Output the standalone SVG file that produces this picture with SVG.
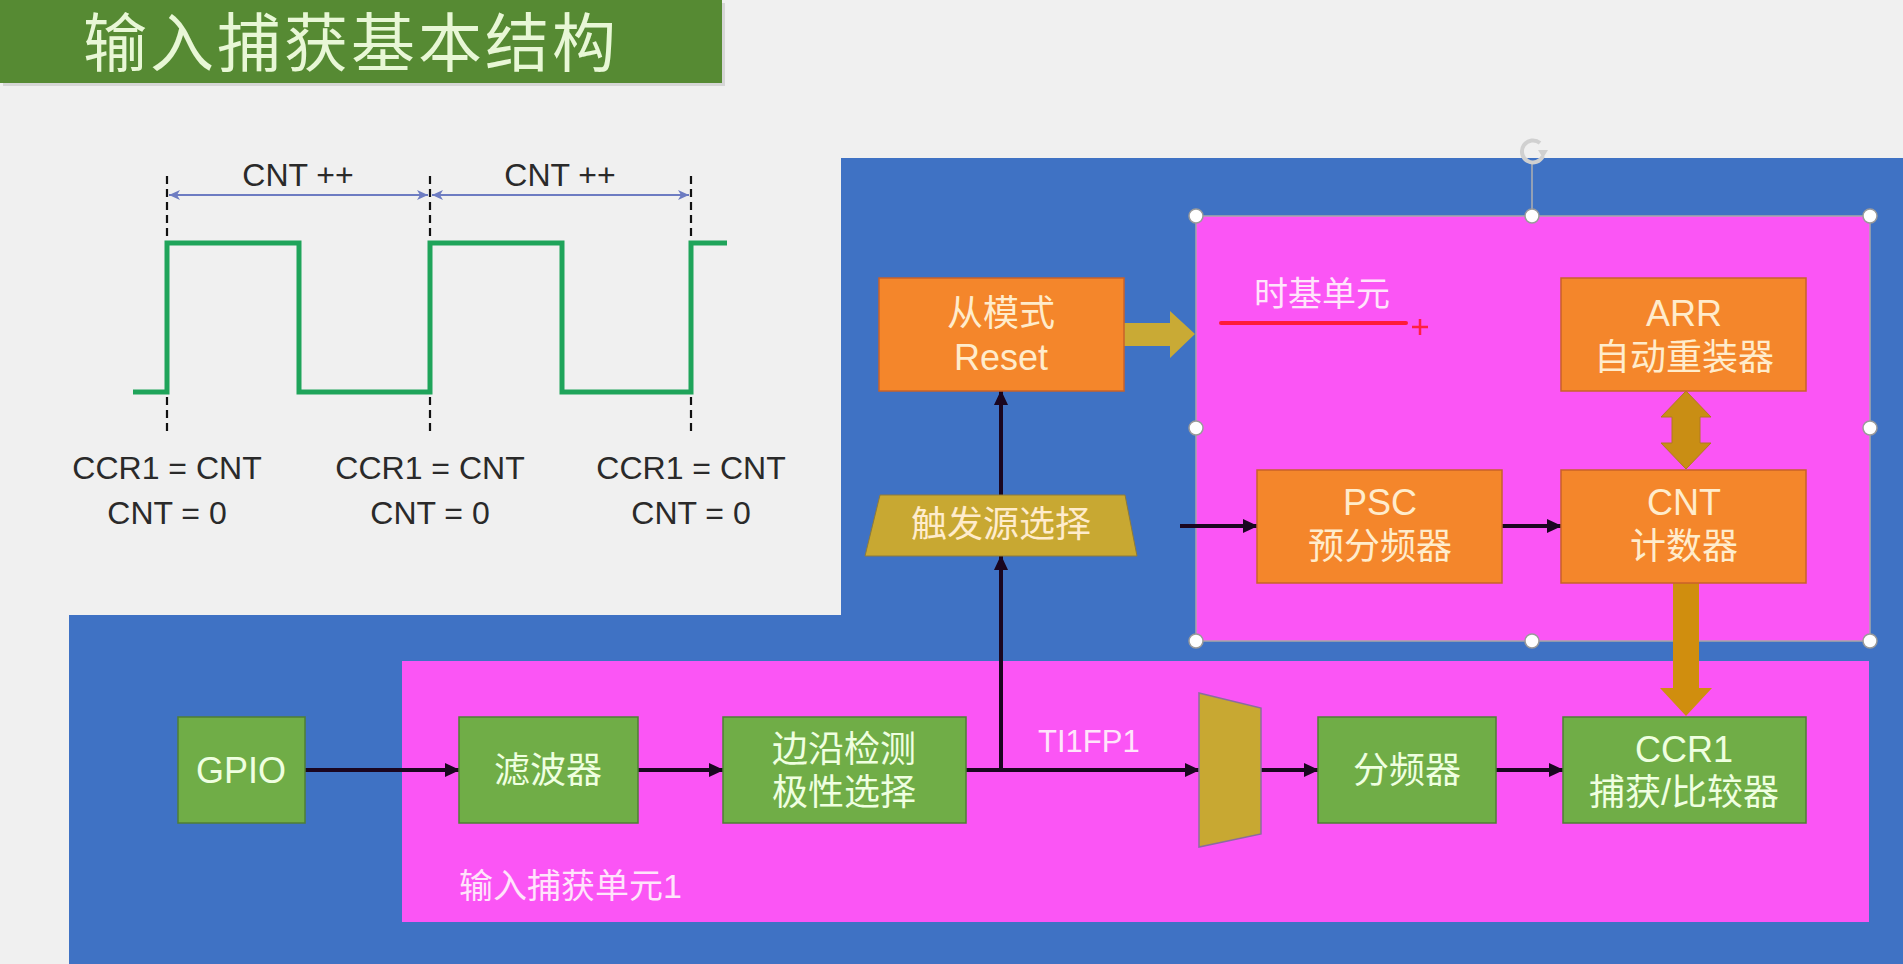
<svg xmlns="http://www.w3.org/2000/svg" width="1903" height="964" viewBox="0 0 1903 964">
<defs>
<style>
.cjk{font-family:"Liberation Sans","Noto Sans CJK SC",sans-serif;}
.lat{font-family:"Liberation Sans","Noto Sans CJK SC",sans-serif;}
.obox{fill:#f4862b;stroke:#c9622a;stroke-width:1.5;}
.gbox{fill:#70ad47;stroke:#4f7f34;stroke-width:1.5;}
.otxt{fill:#ffeccc;font-size:36px;text-anchor:middle;}
.gtxt{fill:#efffe0;font-size:36px;text-anchor:middle;}
.ptxt{fill:#ffe4fb;}
.wtxt{fill:#2a2a2a;font-size:32px;text-anchor:middle;}
.conn{stroke:#1a0620;stroke-width:4;fill:none;marker-end:url(#ah);}
.dash{stroke:#111;stroke-width:2.2;stroke-dasharray:8,5;fill:none;}
.dim{stroke:#6d7cc2;stroke-width:2;fill:none;marker-start:url(#sh);marker-end:url(#sh);}
.handle{fill:#fff;stroke:#9a9a9a;stroke-width:1.5;}
</style>
<marker id="ah" markerUnits="userSpaceOnUse" markerWidth="16" markerHeight="16" refX="14" refY="8" orient="auto"><path d="M0,1 L15,8 L0,15 z" fill="#1a0620"/></marker>
<marker id="sh" markerUnits="userSpaceOnUse" markerWidth="12" markerHeight="12" refX="11" refY="6" orient="auto-start-reverse"><path d="M0,1 L11,6 L0,11 L3,6 z" fill="#6d7cc2"/></marker>
</defs>
<rect x="0" y="0" width="1903" height="964" fill="#f0f0f0"/>
<!-- title -->
<g id="title">
<rect x="3" y="3" width="722" height="83" fill="#c4c4c4" opacity="0.6"/>
<rect x="0" y="0" width="722" height="83" fill="#568a33"/>
<text x="83" y="66" class="cjk" font-size="64" fill="#e8f7d6" letter-spacing="3">输入捕获基本结构</text>
</g>
<!-- blue background region -->
<path d="M841,158 L1903,158 L1903,964 L69,964 L69,615 L841,615 Z" fill="#3f72c4"/>
<!-- waveform -->
<g id="waveform">
<line class="dash" x1="167" y1="176" x2="167" y2="434"/>
<line class="dash" x1="430" y1="176" x2="430" y2="434"/>
<line class="dash" x1="691" y1="176" x2="691" y2="434"/>
<line class="dim" x1="169" y1="195" x2="428" y2="195"/>
<line class="dim" x1="432" y1="195" x2="689" y2="195"/>
<text class="lat wtxt" x="298" y="186">CNT ++</text>
<text class="lat wtxt" x="560" y="186">CNT ++</text>
<path d="M133,392 L167,392 L167,243 L299,243 L299,392 L430,392 L430,243 L562,243 L562,392 L691,392 L691,243 L727,243" fill="none" stroke="#1fa45a" stroke-width="5"/>
<text class="lat wtxt" x="167" y="479">CCR1 = CNT<tspan x="167" dy="45">CNT = 0</tspan></text>
<text class="lat wtxt" x="430" y="479">CCR1 = CNT<tspan x="430" dy="45">CNT = 0</tspan></text>
<text class="lat wtxt" x="691" y="479">CCR1 = CNT<tspan x="691" dy="45">CNT = 0</tspan></text>
</g>
<!-- time base unit -->
<g id="timebase">
<rect x="1196" y="216" width="674" height="425" fill="#fb55f5" stroke="#a8a8a8" stroke-width="1.5"/>
<text class="cjk ptxt" x="1254" y="306" font-size="34">时基单元</text>
<line x1="1221" y1="323" x2="1406" y2="323" stroke="#ff1a3a" stroke-width="4" stroke-linecap="round"/>
<path d="M1412,327 L1428,327 M1420,319 L1420,335" stroke="#ff2040" stroke-width="2.5"/>
</g>
<!-- input capture unit -->
<g id="capture-unit">
<rect x="402" y="661" width="1467" height="261" fill="#fb55f5"/>
<text class="cjk ptxt" x="459" y="898" font-size="34">输入捕获单元1</text>
</g>
<!-- selection handles -->
<g id="selection">
<line x1="1532" y1="164" x2="1532" y2="216" stroke="#b0b0b0" stroke-width="1.5"/>
<path d="M1540,143 A11,11 0 1 0 1543,156" fill="none" stroke="#d0d0d0" stroke-width="4"/>
<path d="M1538,150 L1548,150 L1543,158 z" fill="#d0d0d0"/>
<circle class="handle" cx="1196" cy="216" r="7"/>
<circle class="handle" cx="1532" cy="216" r="7"/>
<circle class="handle" cx="1870" cy="216" r="7"/>
<circle class="handle" cx="1196" cy="428" r="7"/>
<circle class="handle" cx="1870" cy="428" r="7"/>
<circle class="handle" cx="1196" cy="641" r="7"/>
<circle class="handle" cx="1532" cy="641" r="7"/>
<circle class="handle" cx="1870" cy="641" r="7"/>
</g>
<!-- connectors -->
<g id="connectors">
<line class="conn" x1="305" y1="770" x2="459" y2="770"/>
<line class="conn" x1="638" y1="770" x2="723" y2="770"/>
<line class="conn" x1="966" y1="770" x2="1199" y2="770"/>
<line class="conn" x1="1001" y1="770" x2="1001" y2="556"/>
<line class="conn" x1="1001" y1="495" x2="1001" y2="391"/>
<line class="conn" x1="1261" y1="770" x2="1318" y2="770"/>
<line class="conn" x1="1496" y1="770" x2="1563" y2="770"/>
<line class="conn" x1="1180" y1="526" x2="1257" y2="526"/>
<line class="conn" x1="1502" y1="526" x2="1561" y2="526"/>
<path d="M1124,323 L1170,323 L1170,311 L1195,334 L1170,358 L1170,346 L1124,346 Z" fill="#c9aa35"/>
<path d="M1686,391 L1711,417 L1700,417 L1700,443 L1711,443 L1686,469 L1661,443 L1672,443 L1672,417 L1661,417 Z" fill="#c98e14" stroke="#b07a20" stroke-width="1"/>
<path d="M1673,583 L1699,583 L1699,688 L1712,688 L1686,716 L1660,688 L1673,688 Z" fill="#d08e0e"/>
<text class="lat ptxt" x="1038" y="752" font-size="31">TI1FP1</text>
</g>
<!-- nodes -->
<g id="slave-mode">
<rect class="obox" x="879" y="278" width="245" height="113"/>
<text class="cjk otxt" x="1001" y="326">从模式<tspan x="1001" dy="44">Reset</tspan></text>
</g>
<g id="trigger-select">
<path d="M880,495 L1125,495 L1137,556 L865,556 Z" fill="#c8a832" stroke="#8e7a3a" stroke-width="1"/>
<text class="cjk otxt" x="1001" y="537">触发源选择</text>
</g>
<g id="arr">
<rect class="obox" x="1561" y="278" width="245" height="113"/>
<text class="cjk otxt" x="1684" y="326">ARR<tspan x="1684" dy="44">自动重装器</tspan></text>
</g>
<g id="psc">
<rect class="obox" x="1257" y="470" width="245" height="113"/>
<text class="cjk otxt" x="1380" y="515">PSC<tspan x="1380" dy="44">预分频器</tspan></text>
</g>
<g id="cnt">
<rect class="obox" x="1561" y="470" width="245" height="113"/>
<text class="cjk otxt" x="1684" y="515">CNT<tspan x="1684" dy="44">计数器</tspan></text>
</g>
<g id="gpio">
<rect class="gbox" x="178" y="717" width="127" height="106"/>
<text class="cjk gtxt" x="241" y="783" font-size="34">GPIO</text>
</g>
<g id="filter">
<rect class="gbox" x="459" y="717" width="179" height="106"/>
<text class="cjk gtxt" x="548" y="783">滤波器</text>
</g>
<g id="edge-detect">
<rect class="gbox" x="723" y="717" width="243" height="106"/>
<text class="cjk gtxt" x="844" y="762">边沿检测<tspan x="844" dy="43">极性选择</tspan></text>
</g>
<g id="mux">
<path d="M1199,693 L1261,708 L1261,834 L1199,847 Z" fill="#c8a832" stroke="#8a6ca0" stroke-width="1.5"/>
</g>
<g id="prescaler">
<rect class="gbox" x="1318" y="717" width="178" height="106"/>
<text class="cjk gtxt" x="1407" y="783">分频器</text>
</g>
<g id="ccr1">
<rect class="gbox" x="1563" y="717" width="243" height="106"/>
<text class="cjk gtxt" x="1684" y="762">CCR1<tspan x="1684" dy="43">捕获/比较器</tspan></text>
</g>
</svg>
